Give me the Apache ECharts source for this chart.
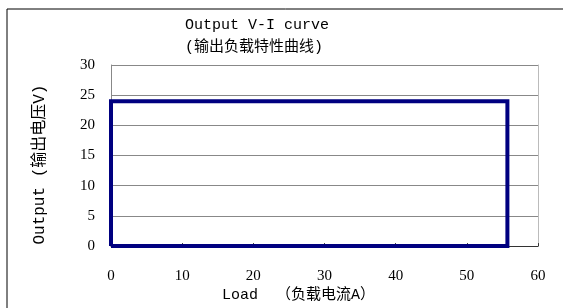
<!DOCTYPE html>
<html>
<head>
<meta charset="utf-8">
<script src="https://cdn.jsdelivr.net/npm/echarts@6/dist/echarts.min.js"></script>
<style>
  html, body { margin: 0; padding: 0; background: #fff; }
  #chart { width: 563px; height: 308px; }
</style>
</head>
<body>
<div id="chart"></div>
<script>
// 输出负载特性曲线 数据
const loadCurrent = [0, 0, 55.7, 55.7, 0]
const outputVoltage = [0, 24, 24, 0, 0]
const titleText = 'Output V-I curve\n(输出负载特性曲线)'
const xName = 'Load  （负载电流A）'
const yName = 'Output (输出电压V)'

const chart = echarts.init(document.getElementById('chart'))
const serif = 'Liberation Serif, Noto Sans CJK SC'
const mono = 'Liberation Mono, Noto Sans CJK SC'

const option = {
    animation: false,
    title: {
        text: titleText,
        left: 180,
        top: 9,
        textAlign: 'left',
        textStyle: { fontFamily: mono, fontWeight: 'normal', fontSize: 15, color: '#000', lineHeight: 22 }
    },
    graphic: [{
        type: 'rect',
        shape: { x: 7, y: 9, width: 700, height: 400 },
        style: { fill: 'none', stroke: '#000', lineWidth: 1 },
        silent: true
    }],
    grid: { left: 111, right: 25, top: 65, bottom: 59 },
    xAxis: {
        type: 'value',
        min: 0,
        max: 60,
        interval: 10,
        name: xName,
        nameLocation: 'middle',
        nameGap: 40,
        nameTextStyle: { fontFamily: mono, fontSize: 15, color: '#000', padding: [0, 52, 0, 0] },
        axisLine: { lineStyle: { color: '#333', width: 1 } },
        axisTick: { inside: true, length: 3, lineStyle: { color: '#333' } },
        axisLabel: { fontFamily: serif, fontSize: 15, color: '#000', margin: 22 },
        splitLine: { show: false }
    },
    yAxis: [{
        type: 'value',
        min: 0,
        max: 30,
        interval: 5,
        name: yName,
        nameLocation: 'middle',
        nameGap: 63,
        nameTextStyle: { fontFamily: mono, fontSize: 16, color: '#000', padding: [0, 18, 0, 0] },
        axisLine: { show: true, lineStyle: { color: '#888' } },
        axisTick: { show: false },
        axisLabel: { fontFamily: serif, fontSize: 15, color: '#000', margin: 16 },
        splitLine: { lineStyle: { color: '#888', width: 1 } }
    }, {
        type: 'value',
        min: 0,
        max: 30,
        interval: 5,
        position: 'right',
        axisLine: { show: true, lineStyle: { color: '#bbb' } },
        axisTick: { show: false },
        axisLabel: { show: false },
        splitLine: { show: false }
    }],
    series: [{
        type: 'line',
        data: loadCurrent.map((x, i) => [x, outputVoltage[i]]),
        showSymbol: false,
        lineStyle: { color: '#000080', width: 4, join: 'miter' }
    }]
}

chart.setOption(option)
</script>
</body>
</html>
